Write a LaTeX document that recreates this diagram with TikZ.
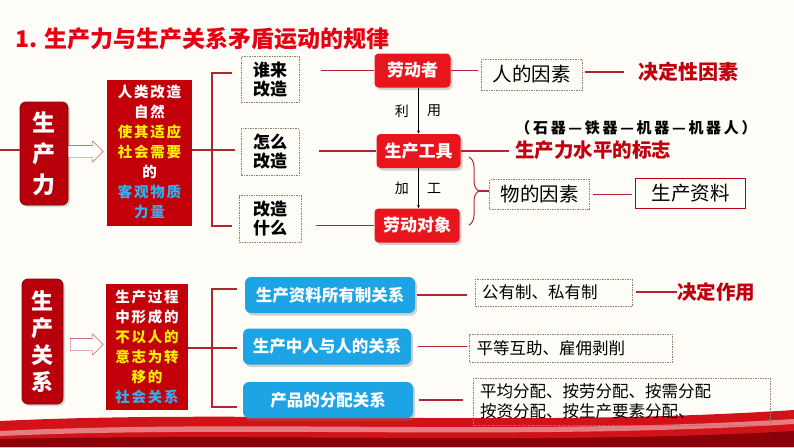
\documentclass[tikz,border=0pt]{standalone}
\usepackage{fontspec}
\setmainfont{Noto Sans CJK SC}
\usetikzlibrary{calc,shadows,shapes.arrows,decorations.pathreplacing}
\definecolor{shenhong}{HTML}{B8000C}
\definecolor{xianhong}{HTML}{E8151C}
\definecolor{xianse}{HTML}{B0262E}
\definecolor{lanse}{HTML}{1DA4E4}
\definecolor{huangse}{HTML}{FFF000}
\definecolor{qinglan}{HTML}{35AEF0}
\definecolor{zihong}{HTML}{C0000E}
\definecolor{biaoti}{HTML}{E60012}
\definecolor{beijing}{HTML}{FFFDF7}

\begin{document}
\begin{tikzpicture}[x=1pt,y=-1pt,thick,
   xian/.style={draw=xianse,line width=1.2pt},
   jiantou/.style={->,>=stealth,thin,black},
   shupai/.style={rounded corners=6pt,fill=shenhong,draw=shenhong!70!black,text=white,align=center,inner sep=0pt,
      font=\bfseries\fontsize{23}{31}\selectfont,drop shadow={opacity=0.3,shadow xshift=2pt,shadow yshift=-2pt}},
   hongdi/.style={fill=shenhong!85!red,text=white,inner sep=0pt,align=center,
      font=\bfseries\fontsize{14.5}{20}\selectfont\addfontfeatures{LetterSpace=12}},
   kongjian/.style={single arrow,draw=xianse,fill=white,thin,inner ysep=6pt,inner xsep=0pt,
      single arrow head extend=4.5pt,minimum height=35pt,anchor=west},
   xukuang/.style={draw=gray!70!brown,dash pattern=on 1.5pt off 1pt,line width=0.6pt,inner sep=0pt,align=center},
   zuokuang/.style={xukuang,inner xsep=7pt,align=left,font=\fontsize{16.5}{20}\selectfont},
   yaosu/.style={rounded corners=4pt,fill=xianhong,text=white,inner sep=0pt,minimum height=34pt,
      font=\bfseries\fontsize{17}{20}\selectfont,drop shadow={opacity=0.35,shadow xshift=2pt,shadow yshift=-2.5pt}},
   guanxi/.style={rounded corners=6pt,fill=lanse,text=white,inner sep=0pt,minimum width=170pt,minimum height=36pt,
      font=\bfseries\fontsize{16.5}{20}\selectfont,drop shadow={opacity=0.35,shadow xshift=2pt,shadow yshift=-2.5pt}},
   zhongdian/.style={text=zihong,inner sep=0pt,anchor=west,font=\bfseries\fontsize{19.5}{22}\selectfont}]

  \fill[beijing] (0,0) rectangle (794,447);
  \useasboundingbox (0,0) rectangle (794,447);
  \fill[xianhong!90!black] (0,447) -- (0,421) .. controls (250,409) and (520,428) .. (794,410) -- (794,447) -- cycle;
  \fill[white,opacity=0.45] (0,431) .. controls (250,419) and (520,436) .. (794,419) -- (794,424) .. controls (520,441) and (250,425) .. (0,436) -- cycle;
  \fill[shenhong!75!black] (0,447) -- (0,439) .. controls (300,433) and (550,445) .. (794,431) -- (794,447) -- cycle;

  \node[text=biaoti,anchor=west,inner sep=0pt,font=\bfseries\fontsize{23}{26}\selectfont] (bt) at (15,39) {1. 生产力与生产关系矛盾运动的规律};

  \node[shupai,minimum width=48pt,minimum height=103pt] (scl) at (44,153.5) {生\\产\\力};
  \node[kongjian] (jt1) at (68,151.5) {};
  \node[hongdi,minimum width=85pt,minimum height=146pt] (ms1) at (149.5,152.5)
     {人类改造\\自然\\\textcolor{huangse}{使其适应}\\\textcolor{huangse}{社会需要}\\的\\\textcolor{qinglan}{客观物质}\\\textcolor{qinglan}{力量}};
  \draw[xian] (0,150) -- (scl.west |- 0,150);

  \node[xukuang,minimum width=58pt,minimum height=46pt,font=\bfseries\fontsize{17}{19}\selectfont] (sh) at (270,79.5) {谁来\\改造};
  \node[xukuang,minimum width=58pt,minimum height=47pt,font=\bfseries\fontsize{17}{19}\selectfont] (zm) at (270,152) {怎么\\改造};
  \node[xukuang,minimum width=62pt,minimum height=47pt,font=\bfseries\fontsize{17}{19}\selectfont] (gs) at (270,219) {改造\\什么};
  \coordinate (k1) at (212,150);
  \draw[xian] (ms1.east |- k1) -- ($(zm.west |- k1)+(-6,0)$);
  \draw[xian] (232,73) -- (212,73) -- (212,226) -- (232,226);

  \node[yaosu,minimum width=76pt] (ldz) at (412.5,70.5) {劳动者};
  \node[yaosu,minimum width=84pt] (scgj) at (418.5,151) {生产工具};
  \node[yaosu,minimum width=85pt] (ldd) at (417,225.5) {劳动对象};

  \foreach \a/\b/\s in {ldz/sh/22,scgj/zm/20,ldd/gs/15}
    \draw[xian,shorten >=\s pt] (\a.west) -- (\a.west -| \b.east);

  \draw[jiantou] (ldz.south -| scgj.north) -- node[left=6pt,font=\fontsize{14}{16}\selectfont] {利}
     node[right=5pt,font=\fontsize{14}{16}\selectfont] {用} (scgj.north);
  \draw[jiantou] (scgj.south) -- node[left=6pt,font=\fontsize{14}{16}\selectfont] {加}
     node[right=5pt,font=\fontsize{14}{16}\selectfont] {工} (ldd.north -| scgj.south);

  \node[xukuang,minimum width=101pt,minimum height=31pt,font=\fontsize{19.5}{22}\selectfont] (rdys) at (531.5,74.5) {人的因素};
  \node[zhongdian,font=\bfseries\fontsize{20}{22}\selectfont] (jdx) at (638,72) {决定性因素};
  \draw[xian,shorten >=3pt] (ldz.east) -- (ldz.east -| rdys.west);
  \draw[xian,shorten <=3pt,shorten >=14pt] (rdys.east |- jdx.west) -- (jdx.west);

  \node[inner sep=0pt,font=\bfseries\fontsize{15}{18}\selectfont\addfontfeatures{LetterSpace=18}] (sq) at (636,128) {（石器—铁器—机器—机器人）};
  \node[zhongdian] (bz) at (515,150) {生产力水平的标志};
  \draw[xian,shorten >=6pt] (scgj.east) -- (scgj.east -| bz.west);

  \draw[xian,line width=1pt,decorate,decoration={brace,amplitude=10pt}] (469,157) -- (469,225);
  \coordinate (kz) at (479,191);
  \node[xukuang,minimum width=100pt,minimum height=30pt,font=\fontsize{19.5}{22}\selectfont] (wdys) at (539.5,194.5) {物的因素};
  \node[draw=shenhong,line width=1pt,inner sep=0pt,minimum width=110pt,minimum height=30pt,font=\fontsize{19.5}{22}\selectfont] (sczl) at (690.5,193.5) {生产资料};
  \draw[xian] (kz) -- (kz -| wdys.west);
  \draw[xian,shorten <=3pt,shorten >=3pt] (wdys.east) -- (wdys.east -| sczl.west);

  \node[shupai,minimum width=41pt,minimum height=125pt,font=\bfseries\fontsize{22}{27}\selectfont] (scgx) at (42.5,341.5) {生\\产\\关\\系};
  \node[kongjian,minimum height=33pt] (jt2) at (70,344.5) {};
  \node[hongdi,minimum width=82pt,minimum height=126pt] (ms2) at (147,346.5)
     {生产过程\\中形成的\\\textcolor{huangse}{不以人的}\\\textcolor{huangse}{意志为转}\\\textcolor{huangse}{移的}\\\textcolor{qinglan}{社会关系}};

  \coordinate (k2) at (212,348);
  \draw[xian] (ms2.east |- k2) -- ($(k2)+(25,0)$);
  \draw[xian] (237,289) -- (212,289) -- (212,407) -- (237,407);

  \node[guanxi] (gx1) at (330,295) {生产资料所有制关系};
  \node[guanxi,minimum width=168pt] (gx2) at (327,346.5) {生产中人与人的关系};
  \node[guanxi] (gx3) at (328,400) {产品的分配关系};

  \node[zuokuang,text width=143pt,minimum height=27pt] (gy) at (553.5,292.5) {公有制、私有制};
  \node[zuokuang,text width=189pt,minimum height=28pt] (pd) at (571,348) {平等互助、雇佣剥削};
  \node[zuokuang,text width=283pt,minimum height=47pt] (fp) at (621.5,401.5) {平均分配、按劳分配、按需分配\\按资分配、按生产要素分配、};
  \node[zhongdian] (jdzy) at (677,292) {决定作用};

  \foreach \a/\b/\s/\t in {gx1/gy/2/8,gx2/pd/7/2,gx3/fp/6/10}
    \draw[xian,shorten <=\s pt,shorten >=\t pt] (\a.east) -- (\a.east -| \b.west);
  \draw[xian,shorten <=4pt] (gy.east |- jdzy.west) -- (jdzy.west);
\end{tikzpicture}
\end{document}
